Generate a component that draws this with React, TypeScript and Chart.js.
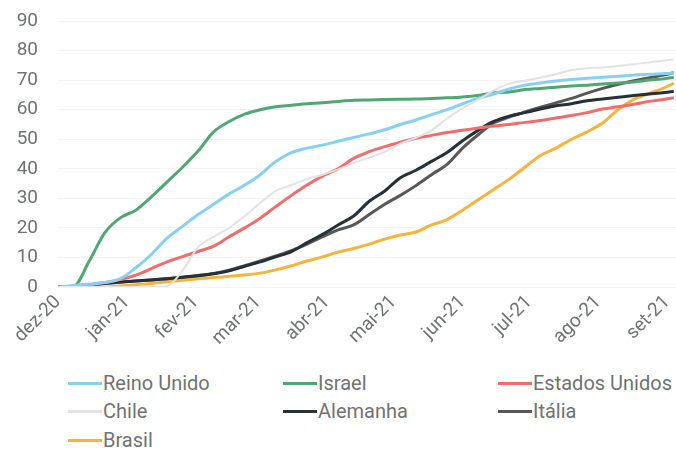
import React, { useEffect, useRef } from "react";
import { Chart, registerables } from "chart.js";

Chart.register(...registerables);

// Days counted from 1 Dec 2020
const days = [
  0, 7, 14, 21, 28, 35, 42, 49, 56, 63, 70, 77, 84, 91, 98, 105, 112, 119, 126, 133,
  140, 147, 154, 161, 168, 175, 182, 189, 196, 203, 210, 217, 224, 231, 238, 245, 252,
  259, 266, 273, 277,
];

const monthTicks = [0, 31, 62, 90, 121, 151, 182, 212, 243, 274];
const monthLabels = ["dez-20", "jan-21", "fev-21", "mar-21", "abr-21", "mai-21", "jun-21", "jul-21", "ago-21", "set-21"];
const yTicks = [0, 10, 20, 30, 40, 50, 60, 70, 80, 90];

const reinoUnido = [
  0, 0.5, 1, 1.5, 2.8, 6.5, 11, 16.5, 20.5, 24.5, 28, 31.5, 34.5, 38, 42.5, 45.5, 47, 48,
  49.3, 50.6, 51.8, 53.2, 55, 56.5, 58.3, 60, 62, 63.8, 65.3, 67, 68.3, 69, 69.7, 70.2,
  70.6, 71, 71.3, 71.7, 72, 72.2, 72.4,
];
const israel = [
  0, 0.2, 8.7, 18.3, 23.4, 26, 30.5, 35.5, 40.5, 46, 52.5, 56, 58.5, 60, 61, 61.5, 62,
  62.3, 62.8, 63.2, 63.3, 63.4, 63.5, 63.6, 63.8, 64, 64.3, 64.8, 65.7, 66, 66.8, 67.2,
  67.6, 68, 68.3, 68.7, 69, 69.4, 70, 70.5, 71,
];
const estadosUnidos = [
  0, 0.2, 0.7, 1.5, 2.5, 4, 6.2, 8.5, 10.3, 12, 13.8, 17, 20, 23.3, 27.2, 31, 34.5, 37.5,
  40, 43.5, 45.8, 47.5, 49, 50.3, 51.3, 52.3, 53, 53.8, 54.5, 55, 55.7, 56.3, 57.2, 58,
  59, 60.2, 61, 61.8, 62.8, 63.5, 64,
];
const chile = [
  0, 0, 0, 0, 0, 0, 0, 0.3, 5.5, 13.5, 17, 20, 24, 28.5, 32.5, 34.5, 36.5, 38, 39.8, 42,
  43.8, 45.8, 48.5, 50.5, 53, 57, 60.5, 63.3, 66.5, 68.8, 69.8, 70.8, 72, 73.4, 74, 74.3,
  74.8, 75.4, 76, 76.6, 77,
];
const alemanha = [
  0, 0.2, 0.8, 1.3, 1.7, 2, 2.4, 2.8, 3.3, 3.8, 4.5, 5.5, 7, 8.5, 10.2, 12, 15, 17.8, 21,
  24, 29, 32.5, 37, 39.5, 42.5, 45.5, 49.5, 53, 56, 57.8, 59, 60.2, 61.3, 62, 63, 63.6,
  64.2, 64.8, 65.3, 65.8, 66.2,
];
const italia = [
  0, 0.2, 0.7, 1.2, 1.6, 2, 2.4, 2.8, 3.3, 3.9, 4.6, 5.7, 7.2, 8.8, 10.5, 12.3, 14.5, 17,
  19.3, 21, 24.5, 28, 31, 34.3, 38, 41.5, 47, 51.5, 55.5, 57.5, 59.2, 60.8, 62.3, 63.8,
  65.6, 67.2, 68.6, 69.8, 70.8, 71.8, 72.5,
];
const brasil = [
  0, 0, 0, 0, 0.3, 0.8, 1.2, 1.8, 2.3, 2.8, 3.2, 3.6, 4.1, 4.7, 5.8, 7.2, 8.8, 10.2, 11.8,
  13, 14.5, 16.2, 17.6, 18.6, 21, 22.8, 26, 29.5, 33, 36.5, 40.5, 44.5, 47, 50, 52.5,
  55.5, 60, 63.5, 65.5, 67.5, 69,
];

const seriesNames = ["Reino Unido", "Israel", "Estados Unidos", "Chile", "Alemanha", "Itália", "Brasil"];
const seriesValues = [reinoUnido, israel, estadosUnidos, chile, alemanha, italia, brasil];
const seriesColors = ["#86d1f2", "#4fa771", "#f36b6a", "#e2e2e2", "#263036", "#585858", "#f7b43c"];
const seriesWidths = [3, 3, 3, 2, 3, 3, 3];

const FONT = "Roboto, 'Noto Sans', sans-serif";
const TEXT = "#707373";

export default function App() {
  const ref = useRef<HTMLCanvasElement>(null);

  useEffect(() => {
    const canvas = ref.current;
    if (!canvas) return;
    const chart = new Chart(canvas, {
      type: "line",
      data: {
        datasets: seriesNames.map((name, i) => ({
          label: name,
          data: days.map((d, j) => ({ x: d, y: seriesValues[i][j] })),
          borderColor: seriesColors[i],
          backgroundColor: seriesColors[i],
          borderWidth: seriesWidths[i],
          pointRadius: 0,
          fill: false,
          cubicInterpolationMode: "monotone" as const,
          order: name === "Chile" ? 0 : 1,
        })),
      },
      options: {
        animation: false,
        responsive: false,
        maintainAspectRatio: false,
        layout: { padding: { top: 21, left: 0, right: 0, bottom: 0 } },
        plugins: { legend: { display: false }, tooltip: { enabled: false } },
        scales: {
          x: {
            type: "linear",
            min: 0,
            max: 278,
            afterBuildTicks: (s: any) => {
              s.ticks = monthTicks.map((v) => ({ value: v }));
            },
            afterFit: (s: any) => {
              s.height = 63;
              s.paddingLeft = 0;
              s.paddingRight = 0;
            },
            ticks: {
              autoSkip: false,
              minRotation: 45,
              maxRotation: 45,
              padding: 4,
              color: TEXT,
              font: { family: FONT, size: 19 },
              callback: (v: any) => {
                const k = monthTicks.indexOf(Number(v));
                return k >= 0 ? monthLabels[k] : "";
              },
            },
            grid: { display: false, drawTicks: false },
            border: { display: false },
          },
          y: {
            min: 0,
            max: 90,
            afterBuildTicks: (s: any) => {
              s.ticks = yTicks.map((v) => ({ value: v }));
            },
            afterFit: (s: any) => {
              s.width = 58;
              s.paddingTop = 0;
              s.paddingBottom = 0;
            },
            ticks: {
              padding: 20,
              color: TEXT,
              font: { family: FONT, size: 19 },
            },
            grid: { color: "#f4f4f4", drawTicks: false },
            border: { display: false },
          },
        },
      },
    });
    return () => chart.destroy();
  }, []);

  const legendCols = [68, 283, 498];
  const legendRows = [383, 411, 440];

  return (
    <div style={{ position: "absolute", left: 0, top: 0, width: 676, height: 456, background: "#fff", overflow: "hidden" }}>
      <canvas ref={ref} width={676} height={350} style={{ display: "block", width: 676, height: 350 }} />
      {seriesNames.map((name, i) => (
        <div
          key={name}
          style={{
            position: "absolute",
            left: legendCols[i % 3],
            top: legendRows[Math.floor(i / 3)] - 14,
            height: 28,
            display: "flex",
            alignItems: "center",
            fontFamily: FONT,
            fontSize: 20,
            color: TEXT,
            whiteSpace: "nowrap",
          }}
        >
          <span style={{ display: "inline-block", width: 34, height: 3, background: seriesColors[i], marginRight: 1 }} />
          <span>{name}</span>
        </div>
      ))}
    </div>
  );
}
